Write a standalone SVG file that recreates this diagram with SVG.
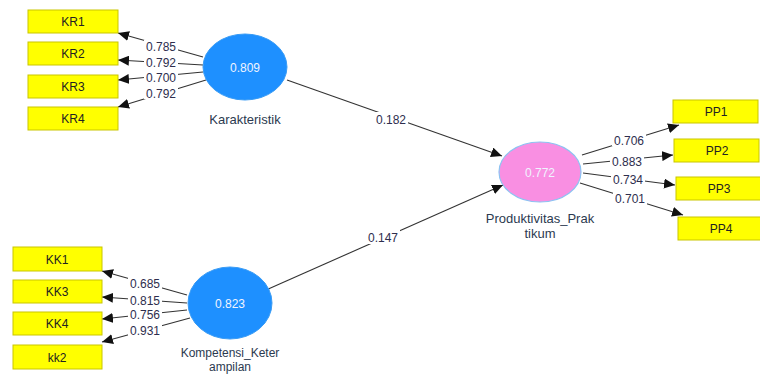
<svg xmlns="http://www.w3.org/2000/svg" width="760" height="374" viewBox="0 0 760 374">
<defs>
<marker id="arr" markerUnits="userSpaceOnUse" markerWidth="12" markerHeight="10" refX="11" refY="5" orient="auto">
<path d="M0,0 L11,5 L0,10 z" fill="#111"/>
</marker>
<style>
.box{fill:#ffff00;stroke:#c9c600;stroke-width:1}
.bt{font-family:"Liberation Sans",Arial,sans-serif;font-size:12px;fill:#222;text-anchor:middle}
.blue{fill:#1e90ff;stroke:#3a9cf5;stroke-width:1}
.pink{fill:#f98fe2;stroke:#8cc3f2;stroke-width:1.2}
.lv{font-family:"Liberation Sans",Arial,sans-serif;font-size:12px;fill:#f0f4ff;text-anchor:middle}
.nm{font-family:"Liberation Sans",Arial,sans-serif;font-size:13px;fill:#2c3a50;text-anchor:middle}
.ln{stroke:#333;stroke-width:1.1;fill:none;marker-end:url(#arr)}
.lb{font-family:"Liberation Sans",Arial,sans-serif;font-size:12px;fill:#2e2e4e;text-anchor:middle}
.bg{fill:#fff}
</style>
</defs>
<rect width="760" height="374" fill="#fff"/>
<g id="connectors">
<line class="ln" x1="203" y1="57" x2="118" y2="33"/>
<line class="ln" x1="203" y1="65" x2="118" y2="60"/>
<line class="ln" x1="203" y1="72" x2="118" y2="80"/>
<line class="ln" x1="206" y1="80" x2="118" y2="107"/>
<line class="ln" x1="187" y1="295" x2="102" y2="271"/>
<line class="ln" x1="187" y1="303" x2="102" y2="297"/>
<line class="ln" x1="187" y1="310" x2="102" y2="319"/>
<line class="ln" x1="190" y1="318" x2="102" y2="342"/>
<line class="ln" x1="287" y1="80" x2="502" y2="156"/>
<line class="ln" x1="266" y1="290" x2="503" y2="185"/>
<line class="ln" x1="582" y1="155" x2="679" y2="125"/>
<line class="ln" x1="583" y1="164" x2="673" y2="155"/>
<line class="ln" x1="583" y1="173" x2="675" y2="185"/>
<line class="ln" x1="580" y1="183" x2="683" y2="215"/>
<rect class="bg" x="144" y="40" width="34" height="13"/><text class="lb" x="161" y="51">0.785</text>
<rect class="bg" x="144" y="56" width="34" height="12"/><text class="lb" x="161" y="66.5">0.792</text>
<rect class="bg" x="144" y="71" width="34" height="12"/><text class="lb" x="161" y="81.5">0.700</text>
<rect class="bg" x="144" y="86" width="34" height="13"/><text class="lb" x="161" y="97.5">0.792</text>
<rect class="bg" x="128" y="277" width="34" height="13"/><text class="lb" x="145" y="288">0.685</text>
<rect class="bg" x="128" y="294" width="34" height="12"/><text class="lb" x="145" y="305">0.815</text>
<rect class="bg" x="128" y="308" width="34" height="12"/><text class="lb" x="145" y="318.5">0.756</text>
<rect class="bg" x="128" y="323" width="34" height="13"/><text class="lb" x="145" y="334.5">0.931</text>
<rect class="bg" x="374" y="112" width="34" height="14"/><text class="lb" x="391" y="123.5">0.182</text>
<rect class="bg" x="366" y="230" width="34" height="14"/><text class="lb" x="383" y="241.5">0.147</text>
<rect class="bg" x="612" y="133" width="34" height="13"/><text class="lb" x="629" y="144.5">0.706</text>
<rect class="bg" x="610" y="155" width="34" height="12"/><text class="lb" x="627" y="165.5">0.883</text>
<rect class="bg" x="611" y="173" width="34" height="12"/><text class="lb" x="628" y="183.5">0.734</text>
<rect class="bg" x="613" y="192" width="34" height="13"/><text class="lb" x="630" y="202.5">0.701</text>
</g>
<g id="KR1"><rect class="box" x="28" y="10" width="90" height="23"/><text class="bt" x="73" y="26">KR1</text></g>
<g id="KR2"><rect class="box" x="28" y="42" width="90" height="23"/><text class="bt" x="73" y="58">KR2</text></g>
<g id="KR3"><rect class="box" x="28" y="75" width="90" height="23"/><text class="bt" x="73" y="91">KR3</text></g>
<g id="KR4"><rect class="box" x="28" y="107" width="90" height="23"/><text class="bt" x="73" y="123">KR4</text></g>
<g id="KK1"><rect class="box" x="13" y="247" width="89" height="24"/><text class="bt" x="57" y="263.5">KK1</text></g>
<g id="KK3"><rect class="box" x="13" y="280" width="89" height="23"/><text class="bt" x="57" y="296">KK3</text></g>
<g id="KK4"><rect class="box" x="13" y="312" width="89" height="23"/><text class="bt" x="57" y="328">KK4</text></g>
<g id="kk2"><rect class="box" x="13" y="345" width="89" height="24"/><text class="bt" x="57" y="361.5">kk2</text></g>
<g id="PP1"><rect class="box" x="673" y="100" width="85" height="23"/><text class="bt" x="716" y="116">PP1</text></g>
<g id="PP2"><rect class="box" x="674" y="139" width="85" height="23"/><text class="bt" x="717" y="155">PP2</text></g>
<g id="PP3"><rect class="box" x="676" y="177" width="85" height="23"/><text class="bt" x="719" y="193">PP3</text></g>
<g id="PP4"><rect class="box" x="678" y="217" width="85" height="23"/><text class="bt" x="721" y="233">PP4</text></g>
<g id="Karakteristik"><ellipse class="blue" cx="245" cy="67" rx="42" ry="33"/><text class="lv" x="245" y="71.5">0.809</text><text class="nm" x="245" y="124">Karakteristik</text></g>
<g id="Kompetensi_Keterampilan"><ellipse class="blue" cx="230" cy="303" rx="42" ry="36"/><text class="lv" x="230" y="307.5">0.823</text><text class="nm" x="230" y="357" style="font-size:12px">Kompetensi_Keter</text><text class="nm" x="230" y="371" style="font-size:12px">ampilan</text></g>
<g id="Produktivitas_Praktikum"><ellipse class="pink" cx="540" cy="172" rx="41" ry="30"/><text class="lv" x="540" y="176.5">0.772</text><text class="nm" x="540" y="223">Produktivitas_Prak</text><text class="nm" x="540" y="238">tikum</text></g>
</svg>
